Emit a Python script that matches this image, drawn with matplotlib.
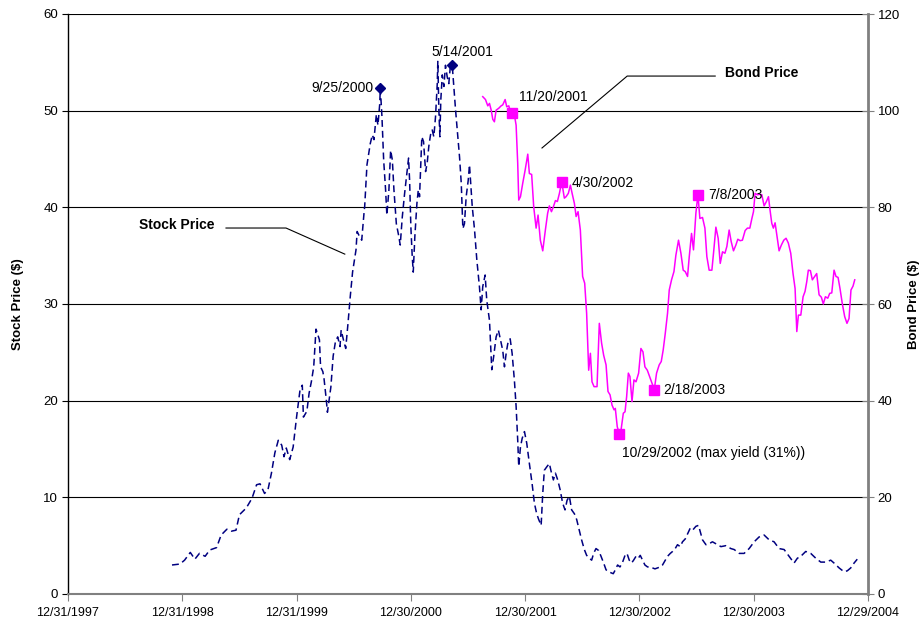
import numpy as np
import pandas as pd
import matplotlib
matplotlib.use("Agg")
import matplotlib.pyplot as plt

plt.rcParams['font.family'] = ['Liberation Sans', 'DejaVu Sans']

# x values are years after 12/31/1997 (365-day years), written as 1998 + t
stock_yr = [
    1998.91, 1998.98, 1999.02, 1999.07, 1999.11, 1999.15, 1999.20, 1999.24, 1999.30, 1999.34,
    1999.39, 1999.43, 1999.47, 1999.50, 1999.56, 1999.61, 1999.65, 1999.68, 1999.72, 1999.75,
    1999.78, 1999.81, 1999.84, 1999.87, 1999.89, 1999.91, 1999.94, 1999.97, 2000.00, 2000.03,
    2000.05, 2000.06, 2000.09, 2000.11, 2000.13, 2000.15, 2000.17, 2000.20, 2000.21, 2000.23,
    2000.24, 2000.26, 2000.27, 2000.30, 2000.32, 2000.34, 2000.36, 2000.38, 2000.39, 2000.41,
    2000.43, 2000.45, 2000.47, 2000.49, 2000.52, 2000.53, 2000.55, 2000.57, 2000.59, 2000.596,
    2000.616, 2000.645, 2000.663, 2000.677, 2000.698, 2000.712, 2000.727, 2000.733, 2000.747, 2000.762,
    2000.779, 2000.790, 2000.808, 2000.823, 2000.838, 2000.852, 2000.873, 2000.893, 2000.907, 2000.925,
    2000.945, 2000.965, 2000.980, 2000.989, 2001.000, 2001.012, 2001.021, 2001.035, 2001.053, 2001.065,
    2001.076, 2001.085, 2001.096, 2001.111, 2001.129, 2001.143, 2001.157, 2001.172, 2001.187, 2001.201,
    2001.216, 2001.231, 2001.236, 2001.245, 2001.254, 2001.262, 2001.275, 2001.289, 2001.303, 2001.318,
    2001.332, 2001.344, 2001.362, 2001.373, 2001.391, 2001.411, 2001.426, 2001.441, 2001.455, 2001.469,
    2001.484, 2001.502, 2001.513, 2001.537, 2001.557, 2001.577, 2001.600, 2001.615, 2001.629, 2001.650,
    2001.664, 2001.688, 2001.708, 2001.725, 2001.746, 2001.766, 2001.784, 2001.804, 2001.819, 2001.834,
    2001.848, 2001.869, 2001.886, 2001.906, 2001.921, 2001.935, 2001.944, 2001.959, 2001.974, 2001.994,
    2002.014, 2002.037, 2002.061, 2002.081, 2002.101, 2002.119, 2002.140, 2002.154, 2002.168, 2002.192,
    2002.212, 2002.227, 2002.247, 2002.265, 2002.285, 2002.306, 2002.328, 2002.349, 2002.367, 2002.387,
    2002.407, 2002.431, 2002.451, 2002.474, 2002.494, 2002.518, 2002.538, 2002.562, 2002.582, 2002.599,
    2002.620, 2002.643, 2002.664, 2002.687, 2002.708, 2002.730, 2002.751, 2002.771, 2002.789, 2002.809,
    2002.830, 2002.853, 2002.874, 2002.891, 2002.911, 2002.931, 2002.949, 2002.970, 2002.990, 2003.007,
    2003.028, 2003.048, 2003.071, 2003.092, 2003.115, 2003.136, 2003.159, 2003.182, 2003.202, 2003.226,
    2003.246, 2003.270, 2003.290, 2003.313, 2003.333, 2003.357, 2003.377, 2003.401, 2003.421, 2003.444,
    2003.465, 2003.494, 2003.517, 2003.552, 2003.582, 2003.610, 2003.639, 2003.669, 2003.713, 2003.756,
    2003.800, 2003.829, 2003.873, 2003.916, 2003.960, 2004.004, 2004.047, 2004.091, 2004.135, 2004.178,
    2004.222, 2004.266, 2004.310, 2004.353, 2004.382, 2004.412, 2004.455, 2004.499, 2004.543, 2004.587,
    2004.630, 2004.674, 2004.703, 2004.747, 2004.790, 2004.819, 2004.849, 2004.878, 2004.906,
]
stock_price = [
    3.0, 3.1, 3.5, 4.3, 3.6, 4.2, 3.9, 4.55, 4.8, 6.1,
    6.7, 6.5, 6.6, 8.2, 8.9, 9.9, 11.3, 11.4, 10.4, 10.8,
    12.5, 14.6, 15.9, 15.4, 14.2, 15.1, 13.9, 15.2, 18.3, 21.1,
    21.6, 18.3, 18.9, 20.8, 22.0, 23.5, 27.4, 26.3, 23.5, 23.0,
    22.3, 20.1, 18.8, 21.4, 24.6, 26.1, 26.6, 25.6, 27.3, 26.3,
    25.4, 28.0, 30.8, 33.3, 35.6, 37.5, 37.0, 36.6, 39.4, 40.1,
    44.4, 46.6, 47.5, 47.0, 49.6, 48.5, 50.6, 52.3, 49.4, 44.9,
    41.8, 39.2, 41.8, 45.9, 44.9, 41.8, 38.3, 37.1, 36.1, 39.0,
    41.4, 43.5, 45.1, 42.8, 38.0, 34.9, 33.3, 37.0, 40.4, 41.8,
    41.1, 43.9, 47.3, 46.8, 43.7, 44.6, 46.3, 47.5, 48.0, 47.3,
    49.4, 52.8, 55.1, 50.1, 47.3, 51.1, 53.7, 52.5, 54.7, 53.5,
    52.8, 54.4, 54.7, 53.0, 50.1, 47.3, 45.2, 42.5, 37.8, 38.3,
    41.1, 42.8, 44.4, 40.1, 37.7, 34.6, 31.8, 29.4, 31.8, 33.0,
    30.4, 28.3, 23.2, 24.6, 26.6, 27.3, 26.3, 25.2, 23.5, 24.9,
    25.9, 26.4, 24.9, 22.1, 19.4, 15.9, 13.2, 15.2, 16.1, 16.8,
    15.6, 13.5, 11.4, 9.4, 8.3, 7.7, 7.1, 10.4, 12.8, 13.2,
    13.5, 12.7, 11.8, 12.5, 11.8, 10.8, 9.4, 8.7, 9.7, 10.1,
    8.7, 8.3, 7.7, 6.6, 5.6, 4.6, 4.0, 3.7, 3.5, 4.2,
    4.7, 4.5, 3.9, 3.2, 2.5, 2.3, 2.2, 2.1, 2.5, 3.0,
    2.8, 3.3, 4.0, 4.2, 3.5, 3.2, 3.5, 3.9, 3.7, 4.0,
    3.5, 3.0, 2.8, 2.8, 2.7, 2.6, 2.7, 2.8, 3.0, 3.5,
    3.9, 4.2, 4.4, 4.7, 5.1, 4.9, 5.4, 5.7, 6.2, 6.8,
    6.6, 7.0, 7.1, 5.6, 5.1, 5.2, 5.4, 5.2, 4.9, 5.0,
    4.7, 4.6, 4.2, 4.2, 4.7, 5.4, 5.9, 6.1, 5.6, 5.4,
    4.7, 4.6, 3.9, 3.2, 3.7, 3.9, 4.4, 4.2, 3.7, 3.3,
    3.3, 3.5, 3.2, 2.7, 2.3, 2.4, 2.7, 3.2, 3.6,
]

bond_yr = [
    2001.629, 2001.653, 2001.673, 2001.688, 2001.703, 2001.717, 2001.731, 2001.746, 2001.769, 2001.790,
    2001.804, 2001.825, 2001.839, 2001.857, 2001.871, 2001.886, 2001.906, 2001.921, 2001.935, 2001.944,
    2001.959, 2001.979, 2002.000, 2002.023, 2002.037, 2002.057, 2002.075, 2002.096, 2002.113, 2002.133,
    2002.154, 2002.177, 2002.197, 2002.212, 2002.230, 2002.247, 2002.265, 2002.282, 2002.300, 2002.320,
    2002.343, 2002.358, 2002.378, 2002.396, 2002.411, 2002.431, 2002.446, 2002.463, 2002.483, 2002.503,
    2002.521, 2002.538, 2002.556, 2002.571, 2002.585, 2002.603, 2002.629, 2002.649, 2002.669, 2002.687,
    2002.708, 2002.725, 2002.743, 2002.760, 2002.778, 2002.789, 2002.806, 2002.824, 2002.839, 2002.859,
    2002.874, 2002.888, 2002.903, 2002.917, 2002.935, 2002.952, 2002.970, 2002.993, 2003.013, 2003.031,
    2003.048, 2003.069, 2003.089, 2003.110, 2003.130, 2003.150, 2003.173, 2003.191, 2003.208, 2003.226,
    2003.246, 2003.261, 2003.281, 2003.302, 2003.319, 2003.342, 2003.363, 2003.383, 2003.401, 2003.421,
    2003.436, 2003.456, 2003.473, 2003.494, 2003.512, 2003.529, 2003.552, 2003.573, 2003.590, 2003.610,
    2003.634, 2003.651, 2003.669, 2003.689, 2003.707, 2003.727, 2003.748, 2003.765, 2003.785, 2003.803,
    2003.823, 2003.844, 2003.861, 2003.881, 2003.901, 2003.925, 2003.945, 2003.966, 2003.984, 2003.998,
    2004.012, 2004.032, 2004.053, 2004.071, 2004.091, 2004.111, 2004.129, 2004.143, 2004.158, 2004.172,
    2004.187, 2004.202, 2004.222, 2004.242, 2004.263, 2004.283, 2004.303, 2004.324, 2004.344, 2004.362,
    2004.377, 2004.391, 2004.412, 2004.432, 2004.449, 2004.464, 2004.478, 2004.496, 2004.513, 2004.534,
    2004.551, 2004.572, 2004.592, 2004.609, 2004.627, 2004.648, 2004.665, 2004.683, 2004.703, 2004.720,
    2004.738, 2004.755, 2004.775, 2004.796, 2004.816, 2004.834, 2004.851, 2004.869, 2004.884,
]
bond_price = [
    102.9, 102.3, 101.0, 101.5, 100.1, 98.2, 97.7, 100.1, 100.5, 101.0,
    101.2, 102.3, 100.8, 101.0, 99.8, 99.6, 99.1, 97.0, 89.1, 81.5,
    82.2, 85.0, 87.7, 91.0, 87.0, 86.8, 80.1, 75.7, 78.4, 73.2,
    71.0, 75.3, 78.8, 80.3, 79.1, 80.1, 81.4, 81.2, 82.9, 85.3,
    81.9, 82.2, 82.9, 84.6, 82.9, 80.8, 78.1, 79.1, 75.3, 65.7,
    64.3, 58.1, 46.3, 49.8, 43.9, 42.9, 42.9, 56.0, 51.9, 49.4,
    47.4, 41.9, 41.2, 39.1, 38.1, 38.4, 34.6, 33.2, 33.9, 37.4,
    37.7, 40.8, 45.7, 45.0, 39.8, 44.3, 43.9, 45.7, 50.8, 50.1,
    47.0, 46.3, 45.0, 43.6, 42.3, 45.7, 47.4, 48.1, 50.5, 53.9,
    58.1, 62.9, 65.0, 66.7, 70.1, 73.2, 70.5, 67.0, 66.7, 65.7,
    69.8, 74.6, 71.2, 78.8, 82.6, 77.7, 77.9, 75.7, 69.8, 67.0,
    67.0, 71.2, 75.9, 73.6, 68.4, 70.8, 70.5, 71.9, 75.3, 72.9,
    71.0, 72.2, 73.4, 73.1, 73.2, 75.2, 75.7, 75.7, 77.7, 79.1,
    82.9, 82.6, 82.7, 82.6, 80.3, 81.2, 82.2, 79.4, 76.7, 75.7,
    76.8, 74.3, 71.0, 72.2, 73.2, 73.6, 72.6, 70.5, 66.3, 63.2,
    54.3, 57.7, 57.7, 61.5, 62.6, 64.6, 67.0, 66.9, 65.0, 65.7,
    66.3, 61.9, 61.4, 60.0, 61.5, 61.2, 62.2, 62.3, 67.0, 65.7,
    65.5, 63.2, 60.1, 57.4, 56.0, 57.0, 62.9, 63.7, 65.0,
]

stock_mark_yr = [2000.733, 2001.362]
stock_mark_val = [52.3, 54.7]
stock_mark_lbl = ['9/25/2000', '5/14/2001']

bond_mark_yr = [2001.886, 2002.320, 2002.824, 2003.130, 2003.512]
bond_mark_val = [99.6, 85.3, 33.2, 42.3, 82.6]
bond_mark_lbl = ['11/20/2001', '4/30/2002', '10/29/2002 (max yield (31%))',
                 '2/18/2003', '7/8/2003']

tick_labels = ['12/31/1997', '12/31/1998', '12/31/1999', '12/30/2000',
               '12/30/2001', '12/30/2002', '12/30/2003', '12/29/2004']

base = pd.Timestamp('1997-12-31')


def to_date(yrs):
    return base + pd.to_timedelta((np.asarray(yrs) - 1998) * 365, unit='D')


tick_dates = pd.to_datetime(tick_labels, format='%m/%d/%Y')

fig = plt.figure(figsize=(9.23, 6.24), dpi=100)
ax = fig.add_axes([68 / 923, 30 / 624, 800 / 923, 580 / 624])
ax2 = ax.twinx()

navy = '#000080'
pink = '#FF00FF'

ax.plot(to_date(stock_yr), stock_price, color=navy, lw=1.1, dashes=(4.5, 2.6), zorder=3)
ax.plot(to_date(stock_mark_yr), stock_mark_val, ls='none', marker='D', ms=5,
        color=navy, zorder=4)
ax2.plot(to_date(bond_yr), bond_price, color=pink, lw=1.1, zorder=3)
ax2.plot(to_date(bond_mark_yr), bond_mark_val, ls='none', marker='s', ms=6.5,
         color=pink, zorder=4)

# axes
ax.set_xlim(tick_dates[0], tick_dates[-1])
ax.set_ylim(0, 60)
ax2.set_ylim(0, 120)
ax.set_xticks(tick_dates)
ax.set_xticklabels(tick_labels)
ax.set_yticks(range(0, 61, 10))
ax2.set_yticks(range(0, 121, 20))
ax.yaxis.grid(True, color='black', lw=0.8)
ax.set_axisbelow(True)

for a in (ax, ax2):
    a.spines['top'].set_visible(False)
ax.spines['right'].set_visible(False)
ax2.spines['left'].set_visible(False)
ax2.spines['bottom'].set_visible(False)
ax.spines['left'].set_color('black')
ax.spines['left'].set_linewidth(1.0)
ax.spines['bottom'].set_color('#808080')
ax.spines['bottom'].set_linewidth(1.5)
ax2.spines['right'].set_color('#808080')
ax2.spines['right'].set_linewidth(2.0)

ax.tick_params(axis='x', direction='out', length=5, color='#808080', labelsize=9, pad=4)
ax.tick_params(axis='y', direction='out', length=4, color='black', labelsize=9.5, pad=3)
ax2.tick_params(axis='y', direction='inout', length=8, color='#808080', labelsize=9.5, pad=3)

ax.set_ylabel('Stock Price ($)', fontsize=9.5, fontweight='bold')
ax.yaxis.set_label_coords(-0.055, 0.5)
ax2.set_ylabel('Bond Price ($)', fontsize=9.5, fontweight='bold')
ax2.yaxis.set_label_coords(1.05, 0.5)

# point labels
stock_offsets = [((-7, 0), 'right', 'center'), ((10, 13), 'center', 'center')]
for x, y, lbl, (off, ha, va) in zip(to_date(stock_mark_yr), stock_mark_val,
                                    stock_mark_lbl, stock_offsets):
    ax.annotate(lbl, (x, y), xytext=off, textcoords='offset pixels',
                ha=ha, va=va, fontsize=10)

bond_offsets = [(7, 16), (10, -1), (3, -19), (9, 0), (10, 0)]
for x, y, lbl, off in zip(to_date(bond_mark_yr), bond_mark_val, bond_mark_lbl,
                          bond_offsets):
    ax2.annotate(lbl, (x, y), xytext=off, textcoords='offset pixels',
                 ha='left', va='center', fontsize=10)

# series callouts
ax.text(0.089, 0.636, 'Stock Price', transform=ax.transAxes, fontsize=10,
        fontweight='bold', ha='left', va='center')
ax.plot([0.1975, 0.2725, 0.346], [0.631, 0.631, 0.586], color='black', lw=0.8,
        transform=ax.transAxes, clip_on=False)
ax.text(0.821, 0.898, 'Bond Price', transform=ax.transAxes, fontsize=10,
        fontweight='bold', ha='left', va='center')
ax.plot([0.809, 0.699, 0.5925], [0.893, 0.893, 0.769], color='black', lw=0.8,
        transform=ax.transAxes, clip_on=False)

fig.savefig('out.png', dpi=100)
